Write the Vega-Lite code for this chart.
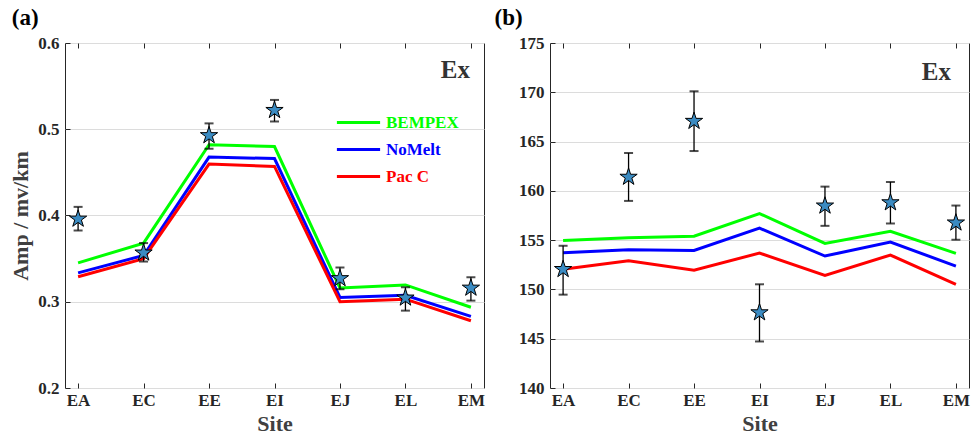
{
  "$schema": "https://vega.github.io/schema/vega-lite/v6.json",
  "background": "white",
  "padding": {"left": 9, "top": 6, "right": 0, "bottom": 0},
  "spacing": 8,
  "config": {
    "font": "Liberation Serif, serif",
    "view": {"stroke": "#262626", "strokeWidth": 1},
    "axis": {
      "labelFont": "Liberation Serif, serif", "labelFontWeight": "bold", "labelFontSize": 17, "labelColor": "#262626",
      "titleFont": "Liberation Serif, serif", "titleFontWeight": "bold", "titleFontSize": 22, "titleColor": "#404040",
      "domain": false, "tickColor": "#262626", "tickSize": -5, "tickWidth": 1
    },
    "legend": {"labelFont": "Liberation Serif, serif"},
    "title": {"font": "Liberation Serif, serif", "fontWeight": "bold", "fontSize": 23, "color": "#000000", "anchor": "start", "frame": "bounds"}
  },
  "datasets": {
    "modelA": [
      {"site": "EA", "model": "BEMPEX", "v": 0.345}, {"site": "EC", "model": "BEMPEX", "v": 0.368}, {"site": "EE", "model": "BEMPEX", "v": 0.482}, {"site": "EI", "model": "BEMPEX", "v": 0.480}, {"site": "EJ", "model": "BEMPEX", "v": 0.316}, {"site": "EL", "model": "BEMPEX", "v": 0.3195}, {"site": "EM", "model": "BEMPEX", "v": 0.2936},
      {"site": "EA", "model": "NoMelt", "v": 0.3335}, {"site": "EC", "model": "NoMelt", "v": 0.3536}, {"site": "EE", "model": "NoMelt", "v": 0.4677}, {"site": "EI", "model": "NoMelt", "v": 0.466}, {"site": "EJ", "model": "NoMelt", "v": 0.305}, {"site": "EL", "model": "NoMelt", "v": 0.3075}, {"site": "EM", "model": "NoMelt", "v": 0.283},
      {"site": "EA", "model": "Pac C", "v": 0.329}, {"site": "EC", "model": "Pac C", "v": 0.350}, {"site": "EE", "model": "Pac C", "v": 0.4596}, {"site": "EI", "model": "Pac C", "v": 0.4569}, {"site": "EJ", "model": "Pac C", "v": 0.300}, {"site": "EL", "model": "Pac C", "v": 0.303}, {"site": "EM", "model": "Pac C", "v": 0.278}
    ],
    "obsA": [
      {"site": "EA", "obs": 0.396, "lo": 0.3826, "hi": 0.410},
      {"site": "EC", "obs": 0.3567, "lo": 0.3466, "hi": 0.368},
      {"site": "EE", "obs": 0.4928, "lo": 0.4774, "hi": 0.5068},
      {"site": "EI", "obs": 0.522, "lo": 0.509, "hi": 0.534},
      {"site": "EJ", "obs": 0.327, "lo": 0.3145, "hi": 0.3397},
      {"site": "EL", "obs": 0.3045, "lo": 0.2897, "hi": 0.3168},
      {"site": "EM", "obs": 0.316, "lo": 0.3013, "hi": 0.3284}
    ],
    "modelB": [
      {"site": "EA", "model": "BEMPEX", "v": 154.97}, {"site": "EC", "model": "BEMPEX", "v": 155.24}, {"site": "EE", "model": "BEMPEX", "v": 155.4}, {"site": "EI", "model": "BEMPEX", "v": 157.7}, {"site": "EJ", "model": "BEMPEX", "v": 154.67}, {"site": "EL", "model": "BEMPEX", "v": 155.9}, {"site": "EM", "model": "BEMPEX", "v": 153.65},
      {"site": "EA", "model": "NoMelt", "v": 153.72}, {"site": "EC", "model": "NoMelt", "v": 154.03}, {"site": "EE", "model": "NoMelt", "v": 153.96}, {"site": "EI", "model": "NoMelt", "v": 156.22}, {"site": "EJ", "model": "NoMelt", "v": 153.39}, {"site": "EL", "model": "NoMelt", "v": 154.8}, {"site": "EM", "model": "NoMelt", "v": 152.37},
      {"site": "EA", "model": "Pac C", "v": 152.04}, {"site": "EC", "model": "Pac C", "v": 152.91}, {"site": "EE", "model": "Pac C", "v": 151.94}, {"site": "EI", "model": "Pac C", "v": 153.69}, {"site": "EJ", "model": "Pac C", "v": 151.43}, {"site": "EL", "model": "Pac C", "v": 153.49}, {"site": "EM", "model": "Pac C", "v": 150.52}
    ],
    "obsB": [
      {"site": "EA", "obs": 152.04, "lo": 149.47, "hi": 154.43},
      {"site": "EC", "obs": 161.4, "lo": 158.98, "hi": 163.84},
      {"site": "EE", "obs": 167.07, "lo": 164.04, "hi": 170.1},
      {"site": "EI", "obs": 147.65, "lo": 144.72, "hi": 150.52},
      {"site": "EJ", "obs": 158.48, "lo": 156.45, "hi": 160.43},
      {"site": "EL", "obs": 158.81, "lo": 156.69, "hi": 160.9},
      {"site": "EM", "obs": 156.76, "lo": 155.04, "hi": 158.51}
    ],
    "labA": [{"site": "EM", "y": 0.5686, "label": "Ex"}],
    "labB": [{"site": "EM", "y": 172.1, "label": "Ex"}]
  },
  "hconcat": [
    {
      "title": {"text": "(a)", "dx": 2},
      "width": 419, "height": 345,
      "resolve": {"axis": {"x": "independent"}},
      "layer": [
        {
          "data": {"name": "modelA"},
          "mark": {"type": "line", "strokeWidth": 3, "clip": true},
          "encoding": {
            "x": {"field": "site", "type": "ordinal", "scale": {"type": "point", "padding": 0.2}, "axis": {"title": "Site", "labelAngle": 0, "labelPadding": 9, "titlePadding": 5, "grid": false}},
            "y": {"field": "v", "type": "quantitative", "title": "Amp / mv/km", "scale": {"domain": [0.2, 0.6], "nice": false, "zero": false}, "axis": {"title": "Amp / mv/km", "values": [0.2, 0.3, 0.4, 0.5, 0.6], "format": ".1f", "grid": true, "gridColor": "#dcdcdc", "labelPadding": 11, "titlePadding": 5}},
            "color": {"field": "model", "type": "nominal", "scale": {"domain": ["BEMPEX", "NoMelt", "Pac C"], "range": ["#00ff00", "#0000ff", "#ff0000"]},
              "legend": {"title": null, "orient": "none", "legendX": 285, "legendY": 71, "symbolType": "M-3.6,0L3.6,0", "symbolSize": 144, "symbolStrokeWidth": 3, "labelFont": "Liberation Serif, serif", "labelFontWeight": "bold", "labelFontSize": 17, "labelOffset": 19, "rowPadding": 9,
                "labelColor": {"expr": "datum.label === 'BEMPEX' ? '#00ff00' : datum.label === 'NoMelt' ? '#0000ff' : '#ff0000'"}}}
          }
        },
        {
          "data": {"name": "obsA"},
          "mark": {"type": "errorbar", "ticks": {"size": 9, "color": "black", "thickness": 2}, "color": "black", "thickness": 1.3},
          "encoding": {
            "x": {"field": "site", "type": "ordinal", "axis": {"orient": "top", "labels": false, "title": null, "grid": false}},
            "y": {"field": "lo", "type": "quantitative", "title": "Amp / mv/km"},
            "y2": {"field": "hi"}
          }
        },
        {
          "data": {"name": "obsA"},
          "mark": {"type": "point", "shape": "M0,-1L0.2245,-0.309L0.951,-0.309L0.363,0.118L0.588,0.809L0,0.382L-0.588,0.809L-0.363,0.118L-0.951,-0.309L-0.2245,-0.309Z", "size": 330, "filled": true, "fill": "#3b8bc2", "stroke": "black", "strokeWidth": 1, "opacity": 1},
          "encoding": {
            "x": {"field": "site", "type": "ordinal", "axis": null},
            "y": {"field": "obs", "type": "quantitative", "title": "Amp / mv/km"}
          }
        },
        {
          "data": {"name": "labA"},
          "mark": {"type": "text", "align": "right", "baseline": "middle", "font": "Liberation Serif, serif", "fontWeight": "bold", "fontSize": 25, "color": "#333333", "dx": -1},
          "encoding": {
            "x": {"field": "site", "type": "ordinal", "axis": null},
            "y": {"field": "y", "type": "quantitative", "title": "Amp / mv/km"},
            "text": {"field": "label"}
          }
        }
      ]
    },
    {
      "title": {"text": "(b)", "dx": -24},
      "width": 419, "height": 345,
      "resolve": {"axis": {"x": "independent"}},
      "layer": [
        {
          "data": {"name": "modelB"},
          "mark": {"type": "line", "strokeWidth": 3, "clip": true},
          "encoding": {
            "x": {"field": "site", "type": "ordinal", "scale": {"type": "point", "padding": 0.2}, "axis": {"title": "Site", "labelAngle": 0, "labelPadding": 9, "titlePadding": 5, "grid": false}},
            "y": {"field": "v", "type": "quantitative", "title": null, "scale": {"domain": [140, 175], "nice": false, "zero": false}, "axis": {"title": null, "values": [140, 145, 150, 155, 160, 165, 170, 175], "grid": true, "gridColor": "#dcdcdc", "labelPadding": 11}},
            "color": {"field": "model", "type": "nominal", "scale": {"domain": ["BEMPEX", "NoMelt", "Pac C"], "range": ["#00ff00", "#0000ff", "#ff0000"]}, "legend": null}
          }
        },
        {
          "data": {"name": "obsB"},
          "mark": {"type": "errorbar", "ticks": {"size": 9, "color": "black", "thickness": 2}, "color": "black", "thickness": 1.3},
          "encoding": {
            "x": {"field": "site", "type": "ordinal", "axis": {"orient": "top", "labels": false, "title": null, "grid": false}},
            "y": {"field": "lo", "type": "quantitative", "title": null},
            "y2": {"field": "hi"}
          }
        },
        {
          "data": {"name": "obsB"},
          "mark": {"type": "point", "shape": "M0,-1L0.2245,-0.309L0.951,-0.309L0.363,0.118L0.588,0.809L0,0.382L-0.588,0.809L-0.363,0.118L-0.951,-0.309L-0.2245,-0.309Z", "size": 330, "filled": true, "fill": "#3b8bc2", "stroke": "black", "strokeWidth": 1, "opacity": 1},
          "encoding": {
            "x": {"field": "site", "type": "ordinal", "axis": null},
            "y": {"field": "obs", "type": "quantitative", "title": null}
          }
        },
        {
          "data": {"name": "labB"},
          "mark": {"type": "text", "align": "right", "baseline": "middle", "font": "Liberation Serif, serif", "fontWeight": "bold", "fontSize": 25, "color": "#333333", "dx": -5},
          "encoding": {
            "x": {"field": "site", "type": "ordinal", "axis": null},
            "y": {"field": "y", "type": "quantitative", "title": null},
            "text": {"field": "label"}
          }
        }
      ]
    }
  ],
  "resolve": {"scale": {"color": "independent", "y": "independent", "x": "independent"}, "legend": {"color": "independent"}}
}
